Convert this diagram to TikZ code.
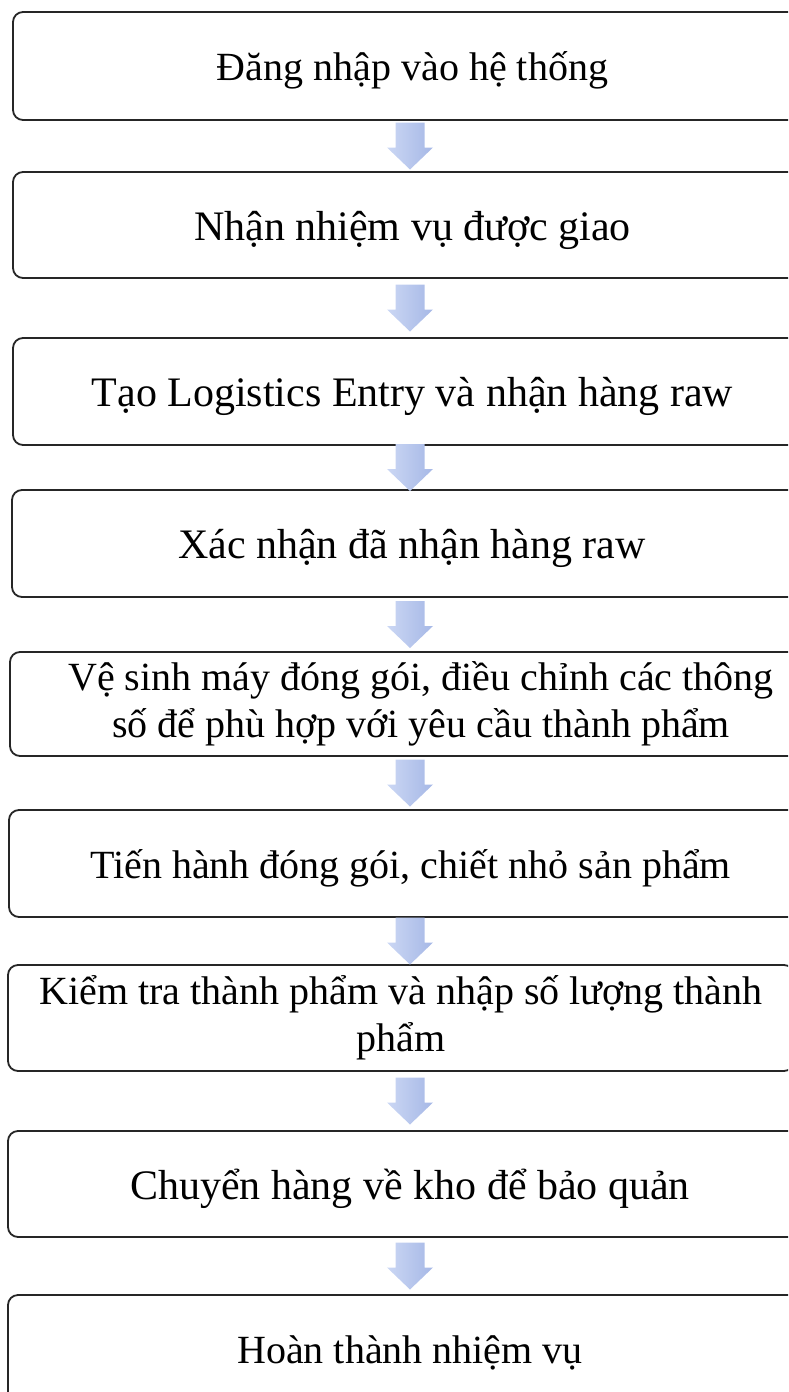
\documentclass[tikz,border=0pt]{standalone}
\usepackage{fontspec}
\setmainfont{Liberation Serif}
\usetikzlibrary{calc}

\definecolor{arrowlight}{HTML}{CBD7F4}
\definecolor{arrowdark}{HTML}{A6B8E6}

\tikzset{
  stepbox/.style={draw=black!85, line width=1.8pt, rounded corners=10pt,
    minimum width=800pt, minimum height=107pt, inner sep=0pt,
    align=center, font=\fontsize{40}{47}\selectfont,
    text height=29pt, text depth=0pt},
  bigtext/.style={font=\fontsize{42}{49}\selectfont, text height=30pt},
  twolines/.style={text height=, text depth=},
  flowarrow/.style={left color=arrowlight, right color=arrowdark, draw=none}
}

% block arrow centred in the gap between two boxes, on the arrow axis
\newcommand{\blockarrow}[2]{%
  \coordinate (m) at ($(#1.south)!0.5!(#2.north)$);
  \coordinate (m) at (axis |- m);
  \shade[flowarrow] ($(m)+(-14.5,-23.5)$) -- ($(m)+(14.5,-23.5)$)
    -- ($(m)+(14.5,1.5)$) -- ($(m)+(23,1.5)$) -- ($(m)+(0,23.5)$)
    -- ($(m)+(-23,1.5)$) -- ($(m)+(-14.5,1.5)$) -- cycle;}

\begin{document}
\begin{tikzpicture}[x=1pt, y=-1pt]
\clip (0,0) rectangle (788,1392);
\coordinate (axis) at (410,0);

\node[stepbox, minimum width=799pt, minimum height=108pt] (b1) at (412.5,66) {Đăng nhập vào hệ thống};
\node[stepbox, bigtext, minimum width=799pt, minimum height=106pt] (b2) at (412.5,225) {Nhận nhiệm vụ được giao};
\node[stepbox, bigtext, minimum width=799pt] (b3) at (412.5,391.5) {Tạo Logistics Entry và nhận hàng raw};
\node[stepbox, bigtext] (b4) at (412,543.5) {Xác nhận đã nhận hàng raw};
\node[stepbox, twolines, minimum width=822pt, minimum height=104pt] (b5) at (421,704) {Vệ sinh máy đóng gói, điều chỉnh các thông\\số để phù hợp với yêu cầu thành phẩm};
\node[stepbox, minimum width=803pt] (b6) at (410.5,863.5) {Tiến hành đóng gói, chiết nhỏ sản phẩm};
\node[stepbox, twolines, minimum width=786pt, minimum height=106pt] (b7) at (401,1018) {Kiểm tra thành phẩm và nhập số lượng thành\\phẩm};
\node[stepbox, bigtext, minimum width=804pt, minimum height=106pt] (b8) at (410,1184) {Chuyển hàng về kho để bảo quản};
\node[stepbox, minimum width=804pt] (b9) at (410,1348.5) {Hoàn thành nhiệm vụ};

\blockarrow{b1}{b2}
\blockarrow{b2}{b3}
\blockarrow{b3}{b4}
\blockarrow{b4}{b5}
\blockarrow{b5}{b6}
\blockarrow{b6}{b7}
\blockarrow{b7}{b8}
\blockarrow{b8}{b9}
\end{tikzpicture}
\end{document}
